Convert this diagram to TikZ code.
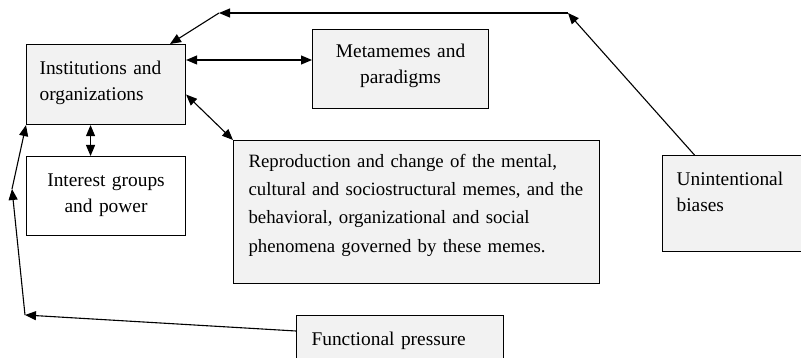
\documentclass[tikz,border=0pt]{standalone}
\usepackage{fontspec}
\setmainfont{Liberation Serif}
\usetikzlibrary{arrows.meta,calc}
\definecolor{boxfill}{HTML}{F2F2F2}
\begin{document}
\begin{tikzpicture}[x=1pt,y=-1pt,
  box/.style={draw=black, line width=1.1pt, fill=boxfill, anchor=north west,
    inner ysep=0pt, font=\fontsize{19.4}{26}\selectfont},
  conn/.style={line width=1.1pt, -{Triangle[length=11pt,width=9pt]}},
  dconn/.style={line width=1.1pt, {Triangle[length=11pt,width=9pt]}-{Triangle[length=11pt,width=9pt]}}]
\clip (0,0) rectangle (801,358);
\fill[white] (0,0) rectangle (801,358);
\node[box, inner xsep=13pt, text width=133pt, align=left, text height=30pt, text depth=50pt] (inst) at (26,44) {Institutions and\\organizations};
\node[box, inner xsep=5pt, text width=166pt, align=center, text height=28pt, text depth=51pt] (meta) at (312,29) {Metamemes and\\paradigms};
\node[box, fill=white, inner xsep=5pt, text width=149pt, align=center, text height=30pt, text depth=49pt] (inter) at (26,156) {Interest groups\\and power};
\node[box, inner xsep=15pt, text width=336pt, align=left, text height=26.7pt, text depth=116.3pt, font=\fontsize{18.8}{28.3}\selectfont] (rep) at (233,140) {\mbox{Reproduction and change of the mental,}\\\mbox{cultural and sociostructural memes, and the}\\\mbox{behavioral, organizational and social}\\\mbox{phenomena governed by these memes.}};
\node[box, inner xsep=14pt, text width=122pt, align=left, text height=30pt, text depth=66pt] (unint) at (662,155) {Unintentional\\biases};
\node[box, inner xsep=15pt, text width=177pt, align=left, text height=30pt, text depth=30pt] (func) at (296,315) {Functional pressure};
\coordinate (c1) at (568,13);
\coordinate (c2) at (219,13);
\coordinate (c3) at (25,315);
\coordinate (c4) at (12,189);
\draw[conn] (unint) -- (c1);
\draw[conn] (c1) -- (c2);
\draw[conn] (c2) -- (inst);
\draw[conn] ([yshift=-16pt]func.north west) -- (c3);
\draw[conn] (c3) -- (c4);
\draw[conn] (c4) -- (inst.south west);
\coordinate (a1) at ($(inst.north east)+(0,16)$);
\draw[dconn] (a1) -- (a1 -| meta.west);
\draw[dconn] ($(inst.east)+(0,10)$) -- (rep.north west);
\draw[dconn] ($(inst.south)+(-15.5,0)$) -- ($(inter.north)+(-15.5,0)$);
\end{tikzpicture}
\end{document}
